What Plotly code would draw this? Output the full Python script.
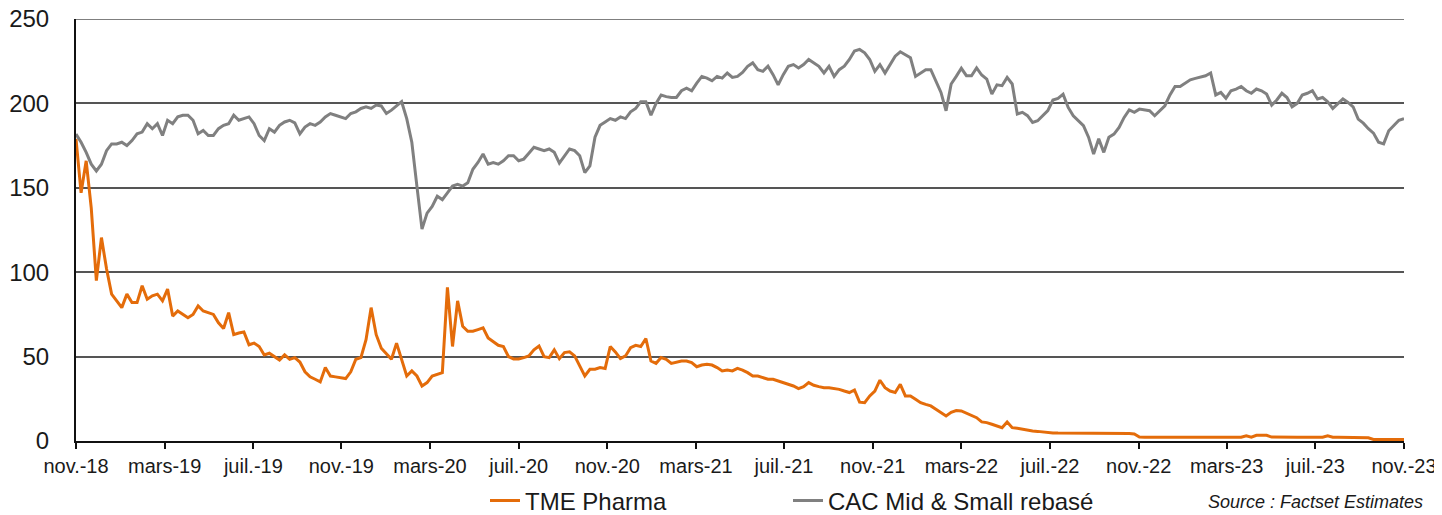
import pandas as pd
import plotly.graph_objects as go

# Weekly observations starting 2018-11-20
start_date = "2018-11-20"

cac_mid_small = [
    181.8, 177, 171, 164, 160, 164, 172, 176, 176, 177,
    175, 178, 182, 183, 188, 185, 188, 181, 190, 188,
    192, 193, 193, 190, 182, 184, 181, 181, 185, 187,
    188, 193, 190, 191, 192, 188, 181, 178, 185, 183,
    187, 189, 190, 188.5, 182, 186, 188, 187, 189, 192,
    194, 193, 192, 191, 194, 195, 197, 198, 197, 199,
    198.5, 194, 196, 198.6, 201, 191, 177, 151, 125.5, 135,
    139, 145, 143, 147, 151, 152, 151, 153, 161, 165,
    170, 164, 165, 164, 166, 169, 169, 166, 167, 170.5,
    174, 173, 172, 173, 171, 164.6, 169, 173, 172, 169,
    159, 163, 180, 187, 189, 191, 190, 192, 191, 195,
    197, 201, 201, 193, 200, 205, 204, 203.5, 203.5, 207.5,
    209, 207.5, 212, 216, 215, 213.4, 216, 215, 218, 215.4,
    216, 218.4, 222, 224, 220, 219, 222, 217, 211, 217,
    222, 223, 221, 223, 226, 224, 222, 218, 222, 216,
    220, 222, 226, 231, 232, 230, 226, 219, 223, 218,
    223, 228, 230.6, 228.7, 227, 216, 218, 220, 220, 213.4,
    206.5, 195.6, 211.5, 216, 220.8, 216.4, 216.4, 221, 216.8, 214.4,
    205.5, 211, 210.5, 215.4, 211.5, 193.7, 194.7, 192.7, 188.7, 189.7,
    193, 195.7, 202, 203, 205.5, 197.6, 192.7, 189.7, 186.8, 180,
    170, 179, 171, 180, 181.8, 185.8, 191.7, 196.2, 194.7, 196.6,
    196.2, 195.7, 192.7, 195.7, 198.6, 205, 210, 210, 212, 214,
    214.8, 215.4, 216.4, 218, 205, 206.5, 203, 207.5, 208.5, 210,
    207.5, 206, 208.5, 207.5, 205.5, 199, 202, 206, 203.5, 198,
    200, 205, 206, 207.5, 202.6, 203.5, 201, 197, 200, 202.6,
    200.6, 198, 190.7, 188.3, 185, 182.4, 177, 176, 183.8, 186.8,
    190, 191,
]

tme_pharma = [
    179, 147, 166, 138, 95, 120.5, 102, 87, 83, 79,
    87, 82, 82, 92, 84, 86, 87, 83, 90, 74,
    77, 75, 73, 75, 80, 77, 76, 75, 70, 66.6,
    76, 63, 64, 64.6, 57, 58, 56, 51, 52, 50,
    48, 51, 48.4, 49.4, 46.8, 41, 38, 36.6, 35, 43.5,
    38.5, 38, 37.5, 37, 41, 48.4, 49.4, 60, 79, 63,
    55, 52, 48.4, 58, 48.4, 38.5, 41.5, 38.5, 32.6, 34.6,
    38.5, 39.5, 40.5, 91, 56, 83, 68, 65, 65, 66,
    67, 61, 59, 56.7, 56, 50, 48.6, 48.6, 49.4, 50.4,
    54, 56.3, 50, 49.4, 54, 48.8, 52.4, 52.8, 50.4, 44,
    38.5, 42.5, 42.5, 43.5, 43, 56, 52.8, 48.8, 50.4, 55.3,
    56.7, 56, 60.7, 47.4, 46, 49.4, 48.4, 46, 46.8, 47.4,
    47.4, 46.4, 44, 45, 45.5, 45, 43.5, 41.5, 42, 41.5,
    43, 42, 40.5, 38.5, 38.5, 37.5, 36.6, 36.6, 35.6, 34.6,
    33.6, 32.6, 31, 32.2, 34.6, 33, 32.2, 31.6, 31.6, 31.2,
    30.6, 29.6, 28.7, 30.2, 23, 22.7, 26.7, 29.6, 36, 31.6,
    29.6, 28.7, 33.6, 26.7, 26.7, 24.7, 22.7, 21.7, 20.8, 18.8,
    16.8, 14.8, 17, 18, 17.8, 16.4, 15.2, 13.8, 11.3, 10.9,
    9.9, 8.9, 7.9, 11.3, 7.9, 7.5, 6.9, 6.5, 5.9, 5.7,
    5.3, 5.3, 4.8, 4.7, 4.7, 4.7, 4.7, 4.7, 4.7, 4.6,
    4.4, 4.6, 4.5, 4.4, 4.4, 4.4, 4.4, 4.4, 4.2, 2.4,
    2.2, 2.2, 2.2, 2.2, 2.2, 2.2, 2.2, 2.2, 2.2, 2.2,
    2.2, 2.2, 2.2, 2.2, 2.2, 2.2, 2.2, 2.2, 2.2, 2.2,
    3.1, 2.3, 3.4, 3.5, 3.4, 2.3, 2.2, 2.2, 2.2, 2.2,
    2.2, 2.2, 2.2, 2.2, 2.2, 2.2, 3.1, 2.2, 2.2, 2.2,
    2.2, 2.2, 2.2, 2.2, 1.9, 0.9, 0.9, 0.9, 0.9, 0.9,
    0.9, 0.9,
]

tick_labels = ["nov.-18", "mars-19", "juil.-19", "nov.-19", "mars-20", "juil.-20",
               "nov.-20", "mars-21", "juil.-21", "nov.-21", "mars-22", "juil.-22",
               "nov.-22", "mars-23", "juil.-23", "nov.-23"]
y_ticks = [0, 50, 100, 150, 200, 250]

series_names = ["TME Pharma", "CAC Mid & Small rebasé"]
source_text = "Source : Factset Estimates"

dates = pd.date_range(start_date, periods=len(cac_mid_small), freq="7D")
d0 = pd.Timestamp(start_date)
span_days = 1827
tickvals = [d0 + pd.Timedelta(days=round(i * span_days / 15)) for i in range(16)]

FONT = "Liberation Sans, Arial, sans-serif"
# the page body adds an 8px offset, so the figure is sized to fit the window
W, H = 1434, 507
GRID = "#555555"

fig = go.Figure()
fig.add_trace(go.Scatter(x=dates[:len(tme_pharma)], y=tme_pharma, mode="lines",
                         name=series_names[0], legend="legend",
                         line=dict(color="#E46C0A", width=3)))
fig.add_trace(go.Scatter(x=dates, y=cac_mid_small, mode="lines",
                         name=series_names[1], legend="legend2",
                         line=dict(color="#808080", width=3)))

leg_common = dict(orientation="h", xref="container", yref="container",
                  xanchor="left", yanchor="middle", y=(H - 493) / H,
                  font=dict(size=24, family=FONT, color="#1a1a1a"),
                  bgcolor="rgba(0,0,0,0)")

fig.update_layout(
    width=W, height=H,
    margin=dict(l=68, r=38, t=11, b=74, autoexpand=False),
    paper_bgcolor="white", plot_bgcolor="white",
    font=dict(family=FONT, color="#1a1a1a"),
    showlegend=True,
    legend=dict(x=477 / W, **leg_common),
    legend2=dict(x=780 / W, **leg_common),
    xaxis=dict(type="date", range=[d0, d0 + pd.Timedelta(days=span_days)],
               tickmode="array", tickvals=tickvals, ticktext=tick_labels,
               showgrid=False, zeroline=False, automargin=False,
               ticklabeloverflow="allow",
               showline=True, linecolor="#111111", linewidth=2,
               ticks="outside", ticklen=6, tickwidth=1.5, tickcolor="#111111",
               tickfont=dict(size=20, family=FONT, color="#1a1a1a")),
    yaxis=dict(range=[0, 250], tickmode="array", tickvals=y_ticks,
               ticktext=[str(v) for v in y_ticks],
               showgrid=True, gridcolor=GRID, gridwidth=1.5, automargin=False,
               ticklabeloverflow="allow",
               zeroline=False, showline=True, linecolor="#111111", linewidth=2,
               ticks="", ticklabelstandoff=20,
               tickfont=dict(size=24, family=FONT, color="#1a1a1a")),
    shapes=[dict(type="line", xref="paper", yref="y", x0=0, x1=1,
                 y0=y_ticks[-1], y1=y_ticks[-1], line=dict(color=GRID, width=1.5),
                 layer="below")],
    annotations=[dict(text="<i>" + source_text + "</i>", xref="paper", yref="paper",
                      x=(1425 - 76) / 1328, xanchor="right",
                      y=(441 - 514) / 422, yanchor="bottom", showarrow=False,
                      font=dict(size=18, family=FONT, color="#1a1a1a"))],
)

fig.write_html("out.html")
